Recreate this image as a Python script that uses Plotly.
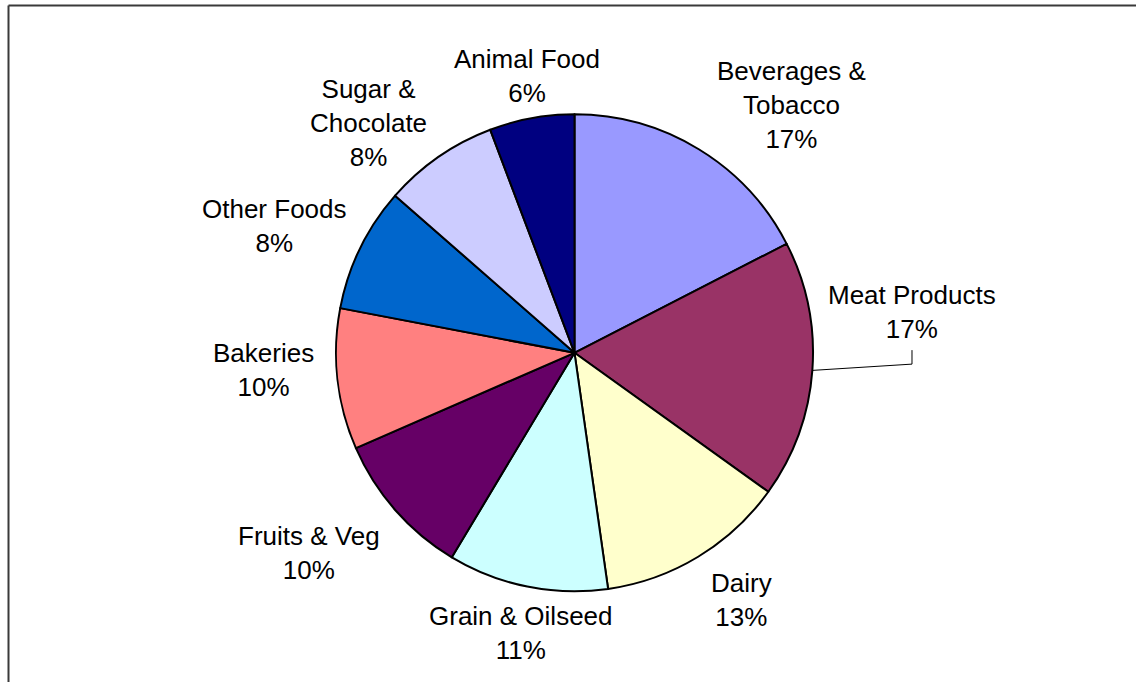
import math
import plotly.graph_objects as go

# Share of food manufacturing output by sub-sector (percent)
categories = ["Beverages & Tobacco", "Meat Products", "Dairy", "Grain & Oilseed",
              "Fruits & Veg", "Bakeries", "Other Foods", "Sugar & Chocolate", "Animal Food"]
shares = [17.45, 17.45, 12.85, 10.85, 9.85, 9.55, 8.45, 7.80, 5.75]
label_lines = [["Beverages &", "Tobacco"], ["Meat Products"], ["Dairy"], ["Grain & Oilseed"],
               ["Fruits & Veg"], ["Bakeries"], ["Other Foods"], ["Sugar &", "Chocolate"], ["Animal Food"]]
colors = ["#9999FF", "#993366", "#FFFFCC", "#CCFFFF", "#660066",
          "#FF8080", "#0066CC", "#CCCCFF", "#000080"]

# Canvas geometry (pixels)
W, H = 1136, 682
CX, CY, R = 574.5, 352.8, 238.5
FONT = 26
LINE_H = 1.3 * FONT
LABEL_GAP = 258
# hand-tuned label nudges in pixels (dx, dy, screen coordinates)
nudges = {
    "Beverages & Tobacco": (42, 16),
    "Meat Products": (-12.5, -62),
    "Dairy": (15, -2),
    "Grain & Oilseed": (19, -6),
    "Fruits & Veg": (-7, 8),
    "Bakeries": (2, -15),
    "Other Foods": (3, 1),
    "Sugar & Chocolate": (-22, 24),
    "Animal Food": (13, 10),
}
# labels that are pulled away from their slice get a leader line
leader_labels = {"Meat Products"}


def px(x):
    return x / W


def py(y):
    return 1 - y / H


fig = go.Figure(go.Pie(
    labels=categories,
    values=shares,
    sort=False,
    direction="clockwise",
    rotation=0,
    marker=dict(colors=colors, line=dict(color="#000000", width=2)),
    textinfo="none",
    hoverinfo="label+percent",
    showlegend=False,
    domain=dict(x=[px(CX - R), px(CX + R)], y=[py(CY + R), py(CY - R)]),
))

total = sum(shares)
annotations = []
shapes = []
cum = 0.0
for name, v, lines in zip(categories, shares, label_lines):
    mid = (cum + v / 2) / total * 2 * math.pi
    cum += v
    s, c = math.sin(mid), math.cos(mid)
    text_lines = lines + [f"{round(v / total * 100)}%"]
    w = 0.55 * FONT * max(len(t) for t in text_lines)
    h = LINE_H * len(text_lines)
    lx = CX + LABEL_GAP * s + w / 2 * s
    ly = CY - LABEL_GAP * c - h / 2 * c
    dx, dy = nudges.get(name, (0, 0))
    lx += dx
    ly += dy
    annotations.append(dict(
        x=px(lx), y=py(ly), xref="paper", yref="paper",
        xanchor="center", yanchor="middle", showarrow=False,
        text="<br>".join(text_lines),
        font=dict(family="Arial, Liberation Sans, sans-serif", size=FONT, color="#000000"),
    ))
    if name in leader_labels:
        ex, ey = CX + R * s, CY - R * c
        bottom = ly + h / 2
        path = (f"M {px(ex)},{py(ey)} L {px(lx)},{py(bottom + 18)} "
                f"L {px(lx)},{py(bottom + 4)}")
        shapes.append(dict(type="path", xref="paper", yref="paper", path=path,
                           line=dict(color="#000000", width=1)))

# chart area frame (top and left edges)
shapes.append(dict(type="line", xref="paper", yref="paper",
                   x0=px(8.5), x1=1.0, y0=py(5.5), y1=py(5.5),
                   line=dict(color="#3a3a3a", width=2)))
shapes.append(dict(type="line", xref="paper", yref="paper",
                   x0=px(8.5), x1=px(8.5), y0=py(5.5), y1=0.0,
                   line=dict(color="#3a3a3a", width=2)))

fig.update_layout(
    width=W, height=H,
    margin=dict(l=0, r=0, t=0, b=0),
    paper_bgcolor="#FFFFFF",
    plot_bgcolor="#FFFFFF",
    annotations=annotations,
    shapes=shapes,
)

fig.write_html("out.html")
